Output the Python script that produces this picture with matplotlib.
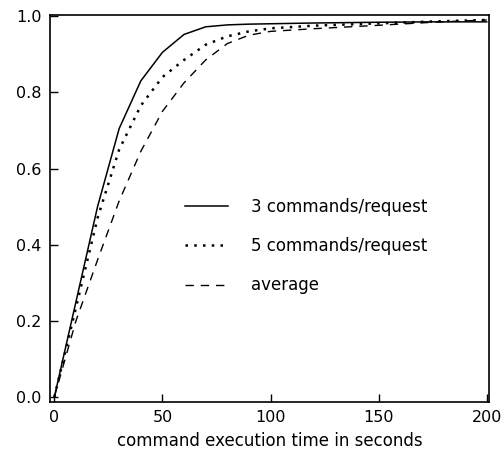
import matplotlib
matplotlib.use('Agg')
import matplotlib.pyplot as plt

# cumulative fraction of commands completed vs execution time (s)
t = [0, 10, 20, 30, 40, 50, 60, 70, 80, 90, 100, 120, 150, 175, 200]
cmd3 = [0.0, 0.25, 0.50, 0.705, 0.83, 0.905, 0.952, 0.972, 0.977, 0.979, 0.980, 0.982, 0.984, 0.985, 0.985]
cmd5 = [0.0, 0.235, 0.47, 0.65, 0.765, 0.84, 0.885, 0.925, 0.947, 0.96, 0.968, 0.975, 0.981, 0.986, 0.99]
avg = [0.0, 0.20, 0.36, 0.515, 0.645, 0.75, 0.825, 0.885, 0.928, 0.95, 0.96, 0.967, 0.976, 0.984, 0.99]

labels = ['3 commands/request', '5 commands/request', 'average']

plt.rcParams['font.family'] = 'DejaVu Sans'
fig = plt.figure(figsize=(5.03, 4.63), dpi=100)
ax = fig.add_axes([0.0994, 0.1317, 0.8726, 0.8359])

ax.plot(t, cmd3, color='black', lw=1.1, ls='-', label=labels[0])
ax.plot(t, cmd5, color='black', lw=1.8, ls=(0, (1, 2.5)), label=labels[1])
ax.plot(t, avg, color='black', lw=1.0, ls=(0, (6, 5)), label=labels[2])

ax.set_xlim(-2, 201)
ax.set_ylim(-0.013, 1.003)
ax.set_xticks([0, 50, 100, 150, 200])
ax.set_yticks([0.0, 0.2, 0.4, 0.6, 0.8, 1.0])
ax.set_yticklabels(['0.0', '0.2', '0.4', '0.6', '0.8', '1.0'])
ax.tick_params(direction='in', length=6, width=1.0, labelsize=11.5, pad=6,
               top=False, right=False)
for s in ax.spines.values():
    s.set_linewidth(1.2)

ax.set_xlabel('command execution time in seconds', fontsize=12, labelpad=5)

ax.legend(loc='upper left', bbox_to_anchor=(0.307, 0.528), frameon=False,
          fontsize=12, handlelength=2.6, handletextpad=1.4, labelspacing=1.28,
          borderpad=0, borderaxespad=0)

plt.savefig('out.png', dpi=100)
